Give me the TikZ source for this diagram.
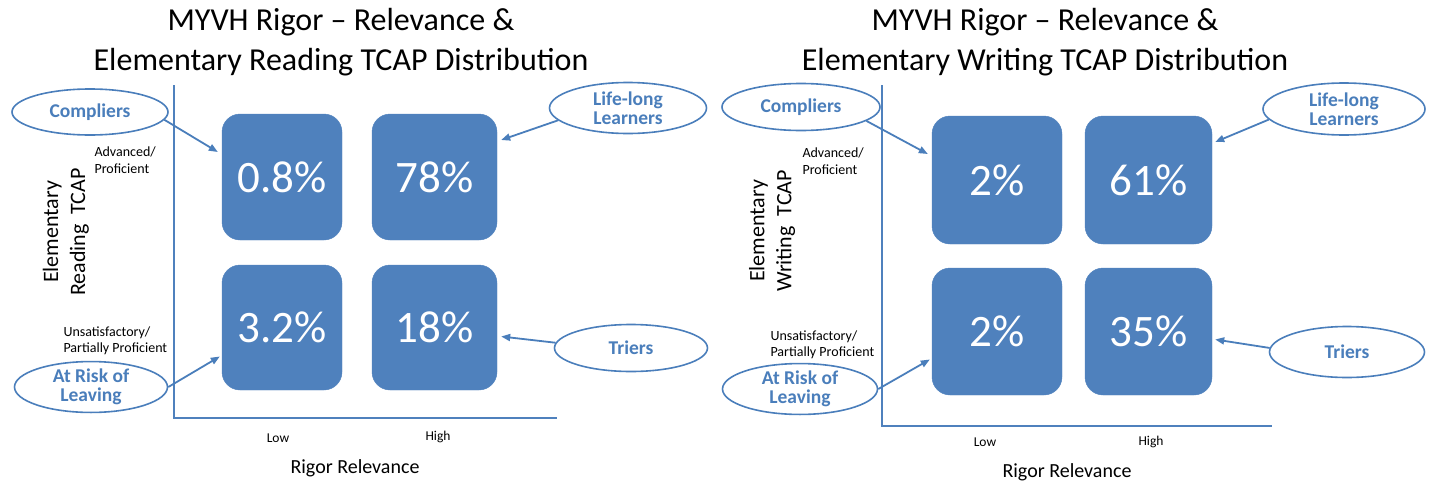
\documentclass[tikz,border=0pt]{standalone}
\usepackage{fontspec}
\setmainfont{Carlito}
\usetikzlibrary{shapes.geometric,arrows.meta}
\definecolor{boxblue}{HTML}{4F81BD}
\definecolor{lineblue}{HTML}{4A7EBB}
\definecolor{txtblue}{HTML}{4A7EBB}
\begin{document}
\begin{tikzpicture}[x=1pt,y=-1pt,
  cell/.style={draw=boxblue,fill=boxblue,rounded corners=18pt,inner sep=0pt,text=white,font=\fontsize{45}{52}\selectfont},
  tag/.style={ellipse,draw=lineblue,line width=1.6pt,fill=white,inner sep=0pt,text=txtblue,align=center,font=\fontsize{19.5}{19}\selectfont\bfseries},
  axis/.style={draw=boxblue,line width=2.2pt},
  pointer/.style={draw=lineblue,line width=1.8pt,-{Triangle[length=9pt,width=7pt]}},
  ttl/.style={align=center,font=\fontsize{32}{40}\selectfont},
  lvl/.style={align=left,anchor=west,font=\fontsize{14}{16.5}\selectfont},
  ylab/.style={align=center,rotate=90,font=\fontsize{22}{27}\selectfont},
  tick/.style={font=\fontsize{13.5}{15}\selectfont},
  xlab/.style={font=\fontsize{20}{22}\selectfont}]
\useasboundingbox (0,0) rectangle (1433,485);

% ---------- left panel ----------
\node[ttl] (t1) at (341,42) {MYVH Rigor – Relevance \&\\Elementary Reading TCAP Distribution};
\coordinate (a1top) at (174,85);
\coordinate (a1o) at (174,418);
\coordinate (a1end) at (557,418);
\draw[axis] (a1top) -- (a1o) -- (a1end);

\node[cell,minimum width=120pt,minimum height=126pt] (b1) at (282,177) {0.8\%};
\node[cell,minimum width=125pt,minimum height=126pt] (b2) at (434.5,177) {78\%};
\node[cell,minimum width=120pt,minimum height=125pt] (b3) at (282,327.5) {3.2\%};
\node[cell,minimum width=125pt,minimum height=125pt] (b4) at (434.5,327.5) {18\%};

\node[lvl] (adv1) at (91,160) {Advanced/\\Proficient};
\node[lvl] (uns1) at (60,341) {Unsatisfactory/\\Partially Proficient};
\node[ylab] (y1) at (66,232) {Elementary\\Reading~~TCAP};
\node[tick] (low1) at (278,438) {Low};
\node[tick] (high1) at (438,437) {High};
\node[xlab] (x1) at (355,468) {Rigor Relevance};

\node[tag,minimum width=156pt,minimum height=46pt] (c1) at (90,112) {Compliers};
\node[tag,minimum width=153pt,minimum height=45pt] (r1) at (91,387) {At Risk of\\Leaving};
\node[tag,minimum width=157pt,minimum height=51pt] (l1) at (628,108) {Life-long\\Learners};
\node[tag,minimum width=153pt,minimum height=47pt] (tr1) at (631,348) {Triers};

\draw[pointer] (c1.-6) -- ([xshift=-4pt,yshift=25pt]b1.west);
\draw[pointer] (r1.east) -- ([xshift=-2pt,yshift=-29pt]b3.west);
\draw[pointer] (l1.190) -- ([xshift=4pt,yshift=37pt]b2.east);
\draw[pointer] (tr1.176) -- ([xshift=4pt,yshift=-9pt]b4.east);

% ---------- right panel ----------
\node[ttl] (t2) at (1045,42) {MYVH Rigor – Relevance \&\\Elementary Writing TCAP Distribution};
\coordinate (a2top) at (882,85);
\coordinate (a2o) at (882,426);
\coordinate (a2end) at (1272,426);
\draw[axis] (a2top) -- (a2o) -- (a2end);

\node[cell,minimum width=130pt,minimum height=128pt] (b5) at (997,180) {2\%};
\node[cell,minimum width=127pt,minimum height=128pt] (b6) at (1148.5,180) {61\%};
\node[cell,minimum width=130pt,minimum height=127pt] (b7) at (997,331.5) {2\%};
\node[cell,minimum width=127pt,minimum height=127pt] (b8) at (1148.5,331.5) {35\%};

\node[lvl] (adv2) at (799,161) {Advanced/\\Proficient};
\node[lvl] (uns2) at (767,345) {Unsatisfactory/\\Partially Proficient};
\node[ylab] (y2) at (772,231) {Elementary\\Writing~~TCAP};
\node[tick] (low2) at (985,442) {Low};
\node[tick] (high2) at (1151,442) {High};
\node[xlab] (x2) at (1067,472) {Rigor Relevance};

\node[tag,minimum width=158pt,minimum height=47pt] (c2) at (801,107) {Compliers};
\node[tag,minimum width=155pt,minimum height=45pt] (r2) at (800,389) {At Risk of\\Leaving};
\node[tag,minimum width=162pt,minimum height=52pt] (l2) at (1344,109) {Life-long\\Learners};
\node[tag,minimum width=155pt,minimum height=51pt] (tr2) at (1347,352) {Triers};

\draw[pointer] (c2.-12) -- ([xshift=-4pt,yshift=26pt]b5.west);
\draw[pointer] (r2.east) -- ([xshift=-2pt,yshift=-28pt]b7.west);
\draw[pointer] (l2.188) -- ([xshift=3pt,yshift=38pt]b6.east);
\draw[pointer] (tr2.177) -- ([xshift=3pt,yshift=-8pt]b8.east);
\end{tikzpicture}
\end{document}
